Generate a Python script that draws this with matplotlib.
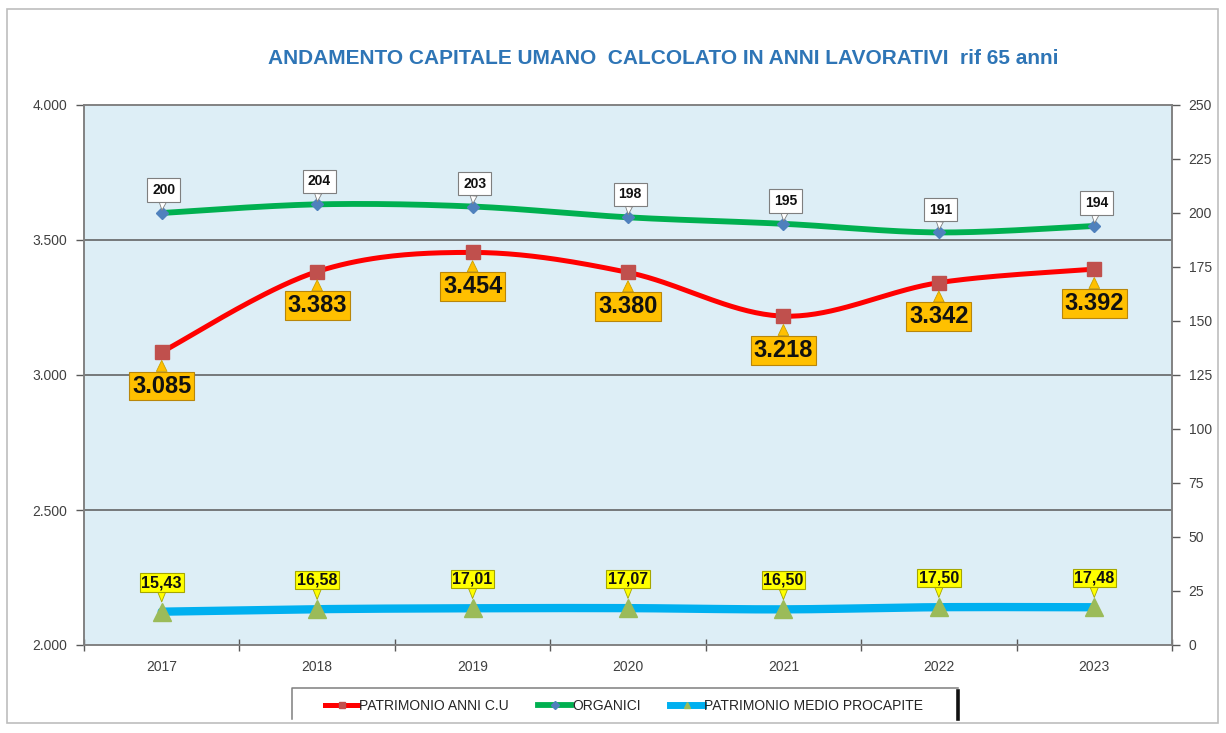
import matplotlib
matplotlib.use("Agg")
import matplotlib.pyplot as plt
import numpy as np
from matplotlib.patches import Rectangle
from matplotlib.lines import Line2D

plt.rcParams['font.family'] = ['Liberation Sans', 'DejaVu Sans']

# ---- data ----
years = ["2017", "2018", "2019", "2020", "2021", "2022", "2023"]
patrimonio_anni = [3085, 3383, 3454, 3380, 3218, 3342, 3392]
organici = [200, 204, 203, 198, 195, 191, 194]
patrimonio_medio = [15.43, 16.58, 17.01, 17.07, 16.50, 17.50, 17.48]

patrimonio_anni_labels = ["3.085", "3.383", "3.454", "3.380", "3.218", "3.342", "3.392"]
organici_labels = ["200", "204", "203", "198", "195", "191", "194"]
patrimonio_medio_labels = ["15,43", "16,58", "17,01", "17,07", "16,50", "17,50", "17,48"]

left_ticks = [2000, 2500, 3000, 3500, 4000]
left_ticklabels = ["2.000", "2.500", "3.000", "3.500", "4.000"]
right_ticks = [0, 25, 50, 75, 100, 125, 150, 175, 200, 225, 250]

title = "ANDAMENTO CAPITALE UMANO  CALCOLATO IN ANNI LAVORATIVI  rif 65 anni"
legend_names = ["PATRIMONIO ANNI C.U", "ORGANICI", "PATRIMONIO MEDIO PROCAPITE"]


def smooth(xs, ys, n=40):
    """Excel-like smoothed line through the points (Bezier / Catmull-Rom)."""
    xs = np.asarray(xs, float)
    ys = np.asarray(ys, float)
    px = np.concatenate([[xs[0]], xs, [xs[-1]]])
    py = np.concatenate([[ys[0]], ys, [ys[-1]]])
    outx, outy = [], []
    t = np.linspace(0, 1, n)
    for i in range(1, len(px) - 2):
        p0 = np.array([px[i], py[i]])
        p3 = np.array([px[i + 1], py[i + 1]])
        c1 = p0 + (np.array([px[i + 1], py[i + 1]]) - np.array([px[i - 1], py[i - 1]])) / 6.0
        c2 = p3 - (np.array([px[i + 2], py[i + 2]]) - np.array([px[i], py[i]])) / 6.0
        b = ((1 - t) ** 3)[:, None] * p0 + (3 * (1 - t) ** 2 * t)[:, None] * c1 \
            + (3 * (1 - t) * t ** 2)[:, None] * c2 + (t ** 3)[:, None] * p3
        outx.extend(b[:, 0])
        outy.extend(b[:, 1])
    return np.array(outx), np.array(outy)


W, H = 1226, 733
fig = plt.figure(figsize=(W / 100, H / 100), dpi=100)
fig.patch.set_facecolor("white")

# outer chart frame
fig.patches.append(Rectangle((7 / W, 1 - 723 / H), 1211 / W, 714 / H, transform=fig.transFigure,
                             fill=False, ec="#BDBDBD", lw=1.2))

ax = fig.add_axes([84 / W, 1 - 645 / H, 1088 / W, 540 / H])
ax.set_facecolor("#DDEEF6")
ax2 = ax.twinx()

x = np.arange(len(years))

ax.set_xlim(-0.5, len(years) - 0.5)
ax.set_ylim(2000, 4000)
ax2.set_ylim(0, 250)

# gridlines (left axis)
for v in left_ticks[1:-1]:
    ax.axhline(v, color="#595959", lw=1.1, zorder=1)

# ---- red series (left axis) ----
sx, sy = smooth(x, patrimonio_anni)
ax.plot(sx, sy, color="#FF0000", lw=3.6, zorder=3, solid_capstyle="round")
ax.plot(x, patrimonio_anni, ls="none", marker="s", ms=10, mfc="#C0504D", mec="#C0504D", zorder=4)

# ---- green & blue series (right axis) ----
gx, gy = smooth(x, organici)
ax2.plot(gx, gy, color="#00B050", lw=4.2, zorder=3, solid_capstyle="round")
ax2.plot(x, organici, ls="none", marker="D", ms=6.5, mfc="#4F81BD", mec="#4F81BD", zorder=4)

bx, by = smooth(x, patrimonio_medio)
ax2.plot(bx, by, color="#00B0F0", lw=6, zorder=3, solid_capstyle="round")
ax2.plot(x, patrimonio_medio, ls="none", marker="^", ms=13, mfc="#9BBB59", mec="#9BBB59", zorder=4)

# ---- data labels ----
for xi, v, lab in zip(x, patrimonio_anni, patrimonio_anni_labels):
    ax.annotate(lab, xy=(xi, v), xytext=(0, -24.5), textcoords="offset points",
                ha="center", va="center", fontsize=17, fontweight="bold", color="#111111",
                bbox=dict(boxstyle="square,pad=0.12", fc="#FFC000", ec="#B8860B", lw=0.8),
                arrowprops=dict(arrowstyle="wedge,tail_width=0.45", fc="#FFC000", ec="#C9A000",
                                lw=0.6, shrinkA=0, shrinkB=6),
                zorder=6, annotation_clip=False)

for xi, v, lab in zip(x, organici, organici_labels):
    ax2.annotate(lab, xy=(xi, v), xytext=(1.5, 16.5), textcoords="offset points",
                 ha="center", va="center", fontsize=10, fontweight="bold", color="#111111",
                 bbox=dict(boxstyle="square,pad=0.35", fc="white", ec="#7F7F7F", lw=0.8),
                 arrowprops=dict(arrowstyle="wedge,tail_width=0.5", fc="white", ec="#7F7F7F",
                                 lw=0.6, shrinkA=0, shrinkB=2),
                 zorder=6)

for xi, v, lab in zip(x, patrimonio_medio, patrimonio_medio_labels):
    ax2.annotate(lab, xy=(xi, v), xytext=(0, 21), textcoords="offset points",
                 ha="center", va="center", fontsize=11.5, fontweight="bold", color="#111111",
                 bbox=dict(boxstyle="square,pad=0.1", fc="#FFFF00", ec="#A6A600", lw=0.8),
                 arrowprops=dict(arrowstyle="wedge,tail_width=0.5", fc="#FFFF00", ec="#A6A600",
                                 lw=0.6, shrinkA=0, shrinkB=7),
                 zorder=6)

# ---- axes styling ----
ax.set_yticks(left_ticks)
ax.set_yticklabels(left_ticklabels)
ax2.set_yticks(right_ticks)
ax.set_xticks(x)
ax.set_xticklabels(years)
ax.set_xticks(np.arange(-0.5, len(years)), minor=True)

ax.tick_params(axis="y", direction="out", length=6, width=1, color="#595959",
               labelsize=10, labelcolor="#404040", pad=6)
ax2.tick_params(axis="y", direction="out", length=6, width=1, color="#595959",
                labelsize=10, labelcolor="#404040", pad=6)
ax.tick_params(axis="x", which="major", length=0, labelsize=10, labelcolor="#404040", pad=11)
ax.tick_params(axis="x", which="minor", direction="inout", length=9, width=1, color="#595959")

for a in (ax, ax2):
    for s in a.spines.values():
        s.set_color("#7F7F7F")
        s.set_linewidth(1.1)
ax2.patch.set_visible(False)

# ---- title ----
fig.text(663 / W, 1 - 58 / H, title, ha="center", va="center", fontsize=15,
         fontweight="bold", color="#2E75B6")

# ---- legend ----
handles = [
    Line2D([], [], color="#FF0000", lw=3.6, marker="s", ms=5, mfc="#C0504D", mec="#C0504D"),
    Line2D([], [], color="#00B050", lw=4.2, marker="D", ms=4, mfc="#4F81BD", mec="#4F81BD"),
    Line2D([], [], color="#00B0F0", lw=5, marker="^", ms=5, mfc="#9BBB59", mec="#9BBB59"),
]
leg = fig.legend(handles, legend_names, loc="center", bbox_to_anchor=(624 / W, 1 - 706 / H),
                 ncol=3, frameon=False, fontsize=10, handlelength=2.4,
                 handletextpad=0.05, columnspacing=2.1, borderpad=0.3)
for t in leg.get_texts():
    t.set_color("#262626")

# legend frame (open at the bottom, thick dark right edge as in the reference)
fl, fr, ft, fb = 292 / W, 958 / W, 1 - 688 / H, 1 - 719 / H
fig.lines.append(Line2D([fl, fl, fr], [fb, ft, ft], transform=fig.transFigure,
                        color="#7F7F7F", lw=1.1))
fig.lines.append(Line2D([fr, fr], [ft - 3 / H, fb], transform=fig.transFigure,
                        color="#111111", lw=2.6))

fig.savefig("out.png", dpi=100)
